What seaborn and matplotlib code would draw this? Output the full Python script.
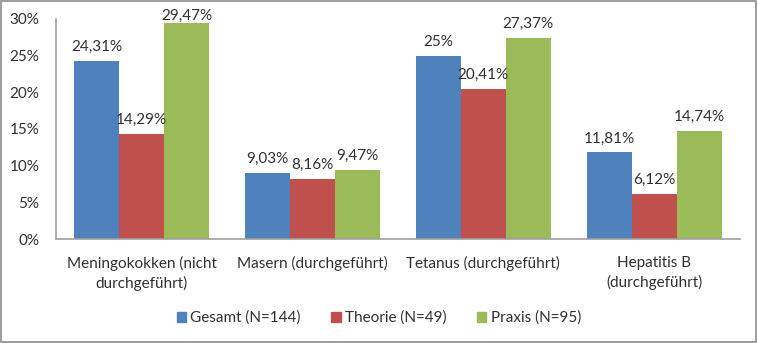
import matplotlib
matplotlib.use("Agg")
import matplotlib.pyplot as plt
import seaborn as sns
import pandas as pd
from matplotlib.patches import Rectangle

categories = ["Meningokokken (nicht\ndurchgeführt)", "Masern (durchgeführt)",
              "Tetanus (durchgeführt)", "Hepatitis B\n(durchgeführt)"]
series = ["Gesamt (N=144)", "Theorie (N=49)", "Praxis (N=95)"]
gesamt = [24.31, 9.03, 25.0, 11.81]
theorie = [14.29, 8.16, 20.41, 6.12]
praxis = [29.47, 9.47, 27.37, 14.74]
labels_gesamt = ["24,31%", "9,03%", "25%", "11,81%"]
labels_theorie = ["14,29%", "8,16%", "20,41%", "6,12%"]
labels_praxis = ["29,47%", "9,47%", "27,37%", "14,74%"]
yticks = [0, 5, 10, 15, 20, 25, 30]
colors = ["#4F81BD", "#C0504D", "#9BBB59"]
txt = "#303030"

rows = []
for s, vals in zip(series, [gesamt, theorie, praxis]):
    for c, v in zip(categories, vals):
        rows.append({"cat": c, "series": s, "val": v})
df = pd.DataFrame(rows)

sns.set_theme(style="white")
plt.rcParams['font.family'] = ['Lato', 'DejaVu Sans']

fig = plt.figure(figsize=(7.58, 3.43), dpi=100)
ax = fig.add_axes([0.0739, 0.303, 0.902, 0.642])
sns.barplot(data=df, x="cat", y="val", hue="series", palette=colors,
            width=0.79, saturation=1, ax=ax, legend=False, edgecolor="none")

all_labels = [labels_gesamt, labels_theorie, labels_praxis]
all_vals = [gesamt, theorie, praxis]
for cont, labs, vals in zip(ax.containers, all_labels, all_vals):
    anns = ax.bar_label(cont, labels=labs, padding=5, fontsize=11, color=txt)
    for a, v in zip(anns, vals):
        if v > 28.5:
            a.xyann = (0, 0)

ax.set_ylim(0, 30)
ax.set_yticks(yticks)
ax.set_yticklabels([f"{t}%" for t in yticks], fontsize=11, color=txt)
ax.set_xticks(range(len(categories)))
ax.set_xticklabels(categories, fontsize=11, color=txt, linespacing=1.45)
ax.tick_params(axis="x", length=0, pad=12)
ax.tick_params(axis="y", length=0, pad=12)
ax.set_xlabel("")
ax.set_ylabel("")
for sp in ["top", "right"]:
    ax.spines[sp].set_visible(False)
for sp in ["left", "bottom"]:
    ax.spines[sp].set_color("#A0A0A0")
    ax.spines[sp].set_linewidth(1.2)
ax.set_xlim(-0.5, 3.5)

handles = [Rectangle((0, 0), 1, 1, color=c) for c in colors]
fig.legend(handles, series, loc="center", bbox_to_anchor=(0.5, 0.073), ncol=3,
           frameon=False, fontsize=11, handlelength=0.6, handleheight=0.6,
           handletextpad=0.3, columnspacing=2.0, labelcolor=txt)

fig.patches.append(Rectangle((0.001, 0.002), 0.997, 0.995, transform=fig.transFigure,
                             fill=False, edgecolor="#8C8C8C", linewidth=1.2))
fig.savefig("out.png", dpi=100)
